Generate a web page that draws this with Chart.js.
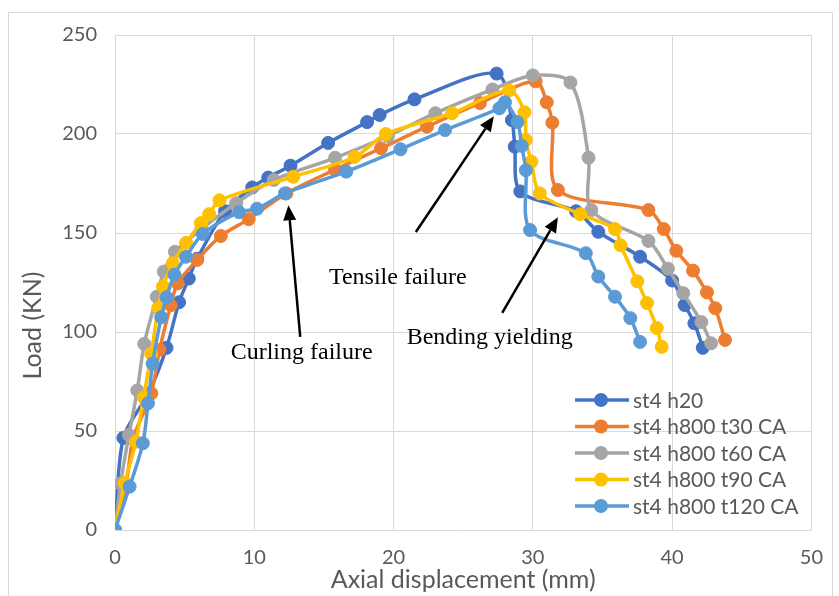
<!DOCTYPE html>
<html>
<head>
<meta charset="utf-8">
<script src="https://cdn.jsdelivr.net/npm/chart.js@4.4.0/dist/chart.umd.min.js"></script>
<style>
  html, body { margin: 0; padding: 0; background: #fff; }
  #wrap { width: 839px; height: 596px; }
</style>
</head>
<body>
<div id="wrap"><canvas id="chart" width="839" height="596"></canvas></div>
<script>
// load vs axial displacement, 5 specimens
const seriesNames = ['st4 h20', 'st4 h800 t30 CA', 'st4 h800 t60 CA', 'st4 h800 t90 CA', 'st4 h800 t120 CA'];
const seriesColors = ['#4472C4', '#ED7D31', '#A5A5A5', '#FFC000', '#5B9BD5'];

const h20 = [[0,0],[0.6,46.5],[2.4,69],[3.7,92],[4.6,115],[5.3,127],[5.9,137],[7.9,161],[9.85,173],[11.0,178],[12.6,184],
  [15.3,195.5],[18.1,206],[19.0,209.6],[21.5,217.5],[27.4,230.5],[28.5,207],[28.7,193.6],[29.1,171],[33.1,161],
  [34.7,150.6],[37.7,138],[40.0,126],[40.9,113.6],[41.6,104.4],[42.2,92]];
const t30 = [[0,0],[0.8,23],[1.3,46],[2.6,69],[3.2,91],[4.0,113.5],[4.5,124.6],[5.9,136.4],[7.6,148.5],[9.6,157],[12.3,170],
  [15.8,182],[19.1,192.8],[22.4,203.7],[26.2,215.6],[30.2,226.6],[31.0,216],[31.4,205.7],[31.8,171.7],[38.3,161.6],
  [39.4,152],[40.3,141],[41.5,131],[42.5,120],[43.1,112],[43.8,96]];
const t60 = [[0,0],[0.4,23.5],[1.0,48],[1.6,70.5],[2.1,94],[3.0,117.8],[3.5,130.5],[4.3,140.5],[6.2,152],[8.7,165],[11.4,176.8],
  [15.8,188],[19.6,199],[23.0,210.5],[27.1,222.5],[30.0,229.6],[32.7,226],[34.0,188],[34.2,161.6],[38.3,146],
  [39.7,132],[40.8,119.6],[42.1,105],[42.8,94.3]];
const t90 = [[0,0],[0.7,23.7],[1.5,44.6],[2.05,67],[2.6,89],[3.1,112],[3.45,123],[4.15,134.7],[5.1,145],[6.17,155],[6.76,159.5],
  [7.5,166.5],[12.8,178.4],[17.2,188.4],[19.45,200],[24.2,210.5],[28.3,222],[29.4,211],[29.5,197],[29.9,186],[30.5,170],
  [33.4,159.5],[35.9,152],[36.3,143.8],[37.5,125.6],[38.2,114.6],[38.9,102],[39.25,92.5]];
const t120 = [[0,0],[1.05,21.9],[2.0,43.8],[2.37,64],[2.7,84],[3.32,107.5],[3.7,117.5],[4.27,129],[5.1,138],[6.3,149.5],
  [8.9,160.5],[10.2,162.3],[12.2,170],[16.6,181],[20.5,192.3],[23.7,202],[27.6,213],[28.0,216],[28.9,206],[29.2,194],
  [29.5,181.7],[29.8,151.5],[33.8,139.8],[34.7,128],[35.9,117.8],[37.0,107],[37.7,95]];

const xRange = [0, 50, 10];
const yRange = [0, 250, 50];

// arrows & notes in data units
const notes = [
  { text: 'Curling failure', at: [13.4, 89.5] },
  { text: 'Tensile failure', at: [20.3, 127.3] },
  { text: 'Bending yielding', at: [26.9, 97] }
];
const arrows = [
  { from: [13.3, 97.5], to: [12.45, 164] },
  { from: [21.6, 150.5], to: [27.2, 209] },
  { from: [27.8, 109.6], to: [31.8, 158] }
];

const allSeries = [h20, t30, t60, t90, t120];

const datasets = allSeries.map((s, i) => ({
  label: seriesNames[i],
  data: s.map(p => ({ x: p[0], y: p[1] })),
  showLine: true,
  borderColor: seriesColors[i],
  backgroundColor: seriesColors[i],
  pointBackgroundColor: seriesColors[i],
  pointBorderColor: seriesColors[i],
  borderWidth: 3.5,
  pointRadius: 6.5,
  pointBorderWidth: 1,
  tension: 0.3,
  order: allSeries.length - i
}));

const tickFont = { family: 'Lato', size: 20 };
const fontCol = '#595959';
const gridCol = '#D9D9D9';

const extras = {
  id: 'extras',
  beforeDraw(chart) {
    const ctx = chart.ctx;
    ctx.save();
    ctx.strokeStyle = gridCol;
    ctx.lineWidth = 1;
    ctx.beginPath();
    ctx.moveTo(8.5, 596);
    ctx.lineTo(8.5, 12.5);
    ctx.lineTo(832.5, 12.5);
    ctx.lineTo(832.5, 596);
    ctx.stroke();
    ctx.restore();
  },
  afterDraw(chart) {
    const { ctx, chartArea: ca, scales: { x, y } } = chart;
    ctx.save();

    // y axis title
    ctx.save();
    ctx.translate(ca.left - 82, ca.top + (ca.bottom - ca.top) * 0.587);
    ctx.rotate(-Math.PI / 2);
    ctx.fillStyle = fontCol;
    ctx.font = '25px Lato';
    ctx.textAlign = 'center';
    ctx.textBaseline = 'middle';
    ctx.fillText('Load (KN)', 0, 0);
    ctx.restore();

    // arrows
    ctx.strokeStyle = '#000';
    ctx.fillStyle = '#000';
    ctx.lineWidth = 2.5;
    arrows.forEach(a => {
      const x0 = x.getPixelForValue(a.from[0]), y0 = y.getPixelForValue(a.from[1]);
      const x1 = x.getPixelForValue(a.to[0]), y1 = y.getPixelForValue(a.to[1]);
      const ang = Math.atan2(y1 - y0, x1 - x0);
      const hl = 15, hw = 6.5;
      const bx = x1 - hl * Math.cos(ang), by = y1 - hl * Math.sin(ang);
      ctx.beginPath();
      ctx.moveTo(x0, y0);
      ctx.lineTo(bx, by);
      ctx.stroke();
      ctx.beginPath();
      ctx.moveTo(x1, y1);
      ctx.lineTo(bx + hw * Math.sin(ang), by - hw * Math.cos(ang));
      ctx.lineTo(bx - hw * Math.sin(ang), by + hw * Math.cos(ang));
      ctx.closePath();
      ctx.fill();
    });

    // notes
    ctx.font = '24px "Liberation Serif"';
    ctx.textAlign = 'center';
    ctx.textBaseline = 'middle';
    notes.forEach(n => {
      ctx.fillText(n.text, x.getPixelForValue(n.at[0]), y.getPixelForValue(n.at[1]));
    });

    // legend (bottom right, inside plot)
    ctx.font = '21px Lato';
    ctx.textAlign = 'left';
    const lx = ca.left + 460, ly = ca.bottom - 130, row = 26.5;
    chart.data.datasets.forEach((ds, i) => {
      const yy = ly + i * row;
      ctx.strokeStyle = ds.borderColor;
      ctx.lineWidth = 3.5;
      ctx.beginPath();
      ctx.moveTo(lx, yy);
      ctx.lineTo(lx + 54, yy);
      ctx.stroke();
      ctx.fillStyle = ds.borderColor;
      ctx.beginPath();
      ctx.arc(lx + 26, yy, 7, 0, Math.PI * 2);
      ctx.fill();
      ctx.fillStyle = fontCol;
      ctx.fillText(ds.label, lx + 58, yy + 1);
    });

    ctx.restore();
  }
};

new Chart(document.getElementById('chart'), {
  type: 'scatter',
  data: { datasets },
  options: {
    responsive: false,
    animation: false,
    layout: { padding: { left: 0, top: 35, right: 21, bottom: 0 } },
    plugins: { legend: { display: false }, tooltip: { enabled: false } },
    scales: {
      x: {
        type: 'linear',
        min: xRange[0], max: xRange[1],
        ticks: { stepSize: xRange[2], color: fontCol, font: tickFont, padding: 16 },
        grid: { color: gridCol, drawTicks: false },
        border: { color: gridCol },
        title: { display: true, text: 'Axial displacement (mm)', color: fontCol, font: { family: 'Lato', size: 25 }, padding: { top: 0, bottom: 1 } },
        afterFit(s) { s.height = 66; }
      },
      y: {
        min: yRange[0], max: yRange[1],
        ticks: { stepSize: yRange[2], color: fontCol, font: tickFont, padding: 18 },
        grid: { color: gridCol, drawTicks: false },
        border: { color: gridCol },
        afterFit(s) { s.width = 115; }
      }
    }
  },
  plugins: [extras]
});
</script>
</body>
</html>
